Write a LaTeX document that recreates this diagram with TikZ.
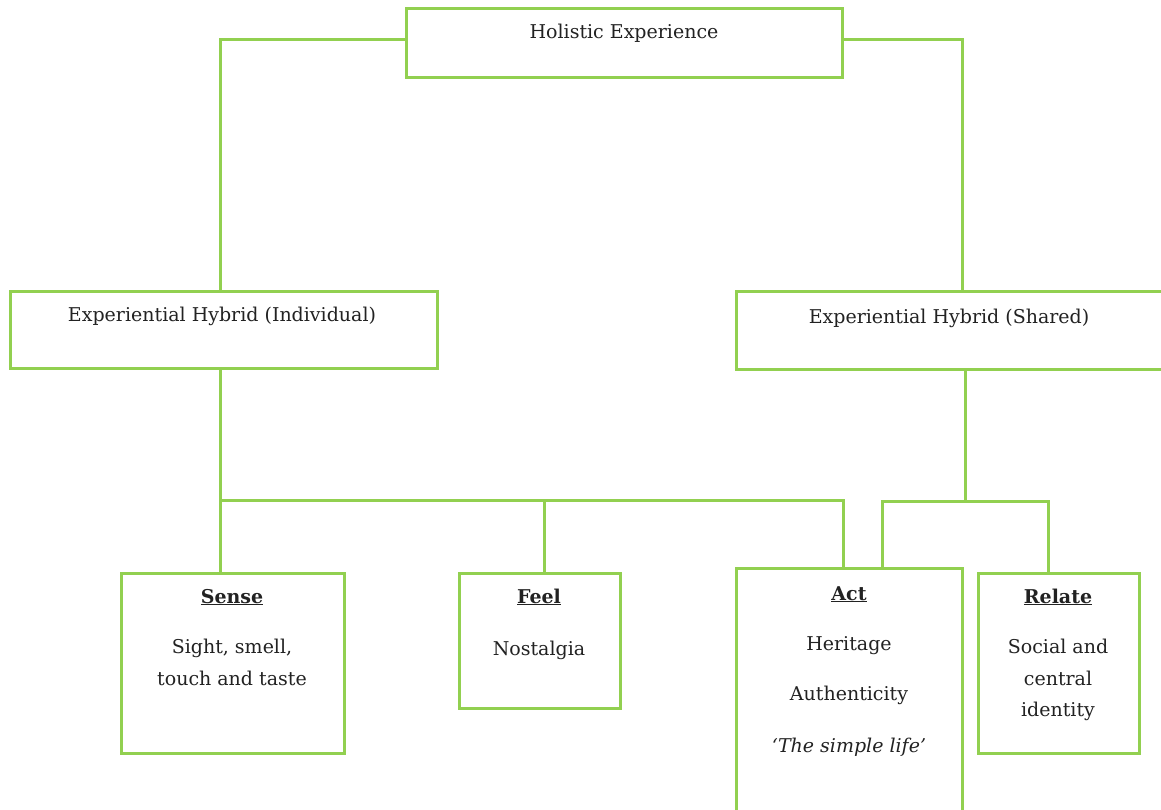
\documentclass[tikz,border=0pt]{standalone}
\usepackage{fontspec}
\setmainfont{DejaVu Serif}
\definecolor{boxgreen}{HTML}{92D050}
\definecolor{txt}{HTML}{222222}
\begin{document}
\begin{tikzpicture}[x=1pt,y=-1pt,
  box/.style={draw=boxgreen,line width=3pt,rectangle,inner sep=0pt,fill=white},
  conn/.style={draw=boxgreen,line width=3pt},
  lbl/.style={anchor=base,inner sep=0pt,text=txt,font=\fontsize{19}{23}\selectfont}]
\useasboundingbox (0,0) rectangle (1161,809);
\clip (0,0) rectangle (1161,809);
% boxes
\node[box,minimum width=436pt,minimum height=69pt] (hol) at (624,42.5) {};
\node[box,minimum width=427pt,minimum height=77pt] (ind) at (223.5,329.5) {};
\node[box,minimum width=427pt,minimum height=78pt] (shr) at (949.5,330) {};
\node[box,minimum width=223pt,minimum height=180pt] (sense) at (232.5,663) {};
\node[box,minimum width=161pt,minimum height=135pt] (feel) at (539.5,640.5) {};
\node[box,minimum width=226pt,minimum height=248pt] (act) at (849,692) {};
\node[box,minimum width=161pt,minimum height=180pt] (rel) at (1058.5,663) {};
% junctions
\coordinate (j1) at (220,500);
\coordinate (j2) at (965,501);
% connectors
\draw[conn] ([yshift=3.5pt]hol.west) -| ([xshift=-3.5pt]ind.north);
\draw[conn] ([yshift=3.5pt]hol.east) -| ([xshift=12.5pt]shr.north);
\draw[conn] ([xshift=-3.5pt]ind.south) -- (j1);
\draw[conn] (j1) -- ([xshift=-12.5pt]sense.north);
\draw[conn] (j1) -| ([xshift=-6pt]act.north);
\draw[conn] ([xshift=4.5pt]feel.north) |- (j1);
\draw[conn] ([xshift=15.5pt]shr.south) -- (j2);
\draw[conn] ([xshift=33pt]act.north) |- (j2);
\draw[conn] ([xshift=-10.5pt]rel.north) |- (j2);
% texts
\node[lbl] (tHol) at (624,38) {Holistic Experience};
\node[lbl] (tInd) at (222,321) {Experiential Hybrid (Individual)};
\node[lbl] (tShr) at (949,323) {Experiential Hybrid (Shared)};
\node[lbl] (tSense) at (232,603) {\underline{\textbf{Sense}}};
\node[lbl] (tSense1) at (232,653) {Sight, smell,};
\node[lbl] (tSense2) at (232,685) {touch and taste};
\node[lbl] (tFeel) at (539,603) {\underline{\textbf{Feel}}};
\node[lbl] (tFeel1) at (539,655) {Nostalgia};
\node[lbl] (tAct) at (849,600) {\underline{\textbf{Act}}};
\node[lbl] (tAct1) at (849,650) {Heritage};
\node[lbl] (tAct2) at (849,700) {Authenticity};
\node[lbl] (tAct3) at (849,752) {\textit{‘The simple life’}};
\node[lbl] (tRel) at (1058,603) {\underline{\textbf{Relate}}};
\node[lbl] (tRel1) at (1058,653) {Social and};
\node[lbl] (tRel2) at (1058,685) {central};
\node[lbl] (tRel3) at (1058,716) {identity};
\end{tikzpicture}
\end{document}
